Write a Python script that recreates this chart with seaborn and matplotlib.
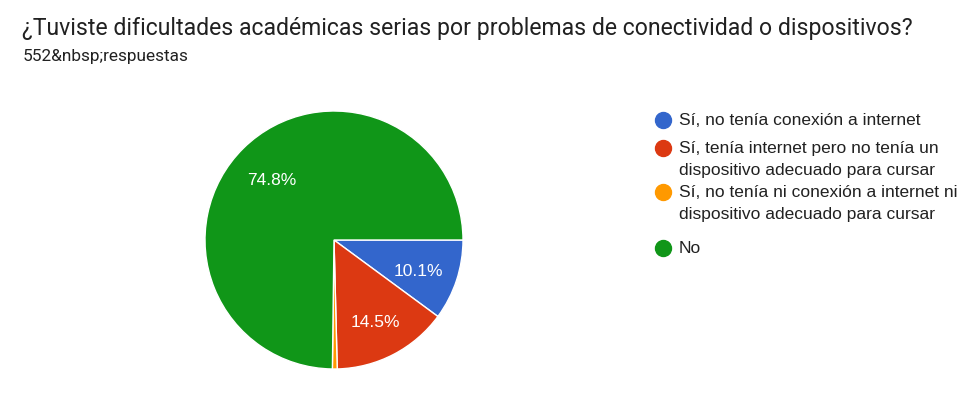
"""
Pie chart — dificultades académicas por conectividad / dispositivos.
"""

import numpy as np
import matplotlib
matplotlib.use('Agg')
import matplotlib.pyplot as plt
import seaborn as sns

# ── Data ─────────────────────────────────────────────────────────────────────
TITLE    = '¿Tuviste dificultades académicas serias por problemas de conectividad o dispositivos?'
SUBTITLE = '552&nbsp;respuestas'

labels = [
    'Sí, no tenía conexión a internet',
    'Sí, tenía internet pero no tenía un\ndispositivo adecuado para cursar',
    'Sí, no tenía ni conexión a internet ni\ndispositivo adecuado para cursar',
    'No',
]
shares = [10.1, 14.5, 0.6, 74.8]
shown_pct = ['10.1%', '14.5%', '', '74.8%']

# ── Style ────────────────────────────────────────────────────────────────────
sns.set_theme(style='white')
plt.rcParams['font.family'] = ['Roboto', 'DejaVu Sans']
colors = sns.color_palette(['#3366cc', '#dc3912', '#ff9900', '#109618'])
TEXT = '#212121'
CHART_FONT = ['Liberation Sans', 'DejaVu Sans']

fig = plt.figure(figsize=(9.8, 3.99), dpi=100)
fig.patch.set_facecolor('white')

# pie axes: centre (334, 240) px, radius 129 px
ax = fig.add_axes([205 / 980, 30 / 399, 258 / 980, 258 / 399])
wedges, _ = ax.pie(
    shares, colors=colors, startangle=0, counterclock=False,
    radius=1.0, wedgeprops=dict(edgecolor='white', linewidth=1),
)
for w, txt in zip(wedges, shown_pct):
    if not txt:
        continue
    ang = np.deg2rad((w.theta1 + w.theta2) / 2)
    ax.annotate(txt, (0.69 * np.cos(ang), 0.69 * np.sin(ang)),
                xytext=(0, -2.5), textcoords='offset points', color='white',
                ha='center', va='center', fontsize=12.5, family=CHART_FONT)
ax.set_xlim(-1, 1)
ax.set_ylim(-1, 1)
ax.set_aspect('equal')
ax.axis('off')

# ── Titles ───────────────────────────────────────────────────────────────────
fig.text(22 / 980, 1 - 28 / 399, TITLE, fontsize=16.6, color=TEXT,
         ha='left', va='center')
fig.text(23 / 980, 1 - 57 / 399, SUBTITLE, fontsize=12.4, color=TEXT,
         ha='left', va='center')

# ── Legend (pixel-space overlay) ─────────────────────────────────────────────
lax = fig.add_axes([0, 0, 1, 1])
lax.set_xlim(0, 980)
lax.set_ylim(399, 0)
lax.axis('off')
row_y = [120, 148, 192, 248]
LINE_STEP = 22
for y, lab, c in zip(row_y, labels, colors):
    lax.plot(663, y, 'o', color=c, markersize=11.5)
    for k, line in enumerate(lab.split('\n')):
        lax.text(679, y + k * LINE_STEP + 5, line, fontsize=12.5, color=TEXT,
                 ha='left', va='baseline', family=CHART_FONT)

fig.savefig('out.png', dpi=100)
